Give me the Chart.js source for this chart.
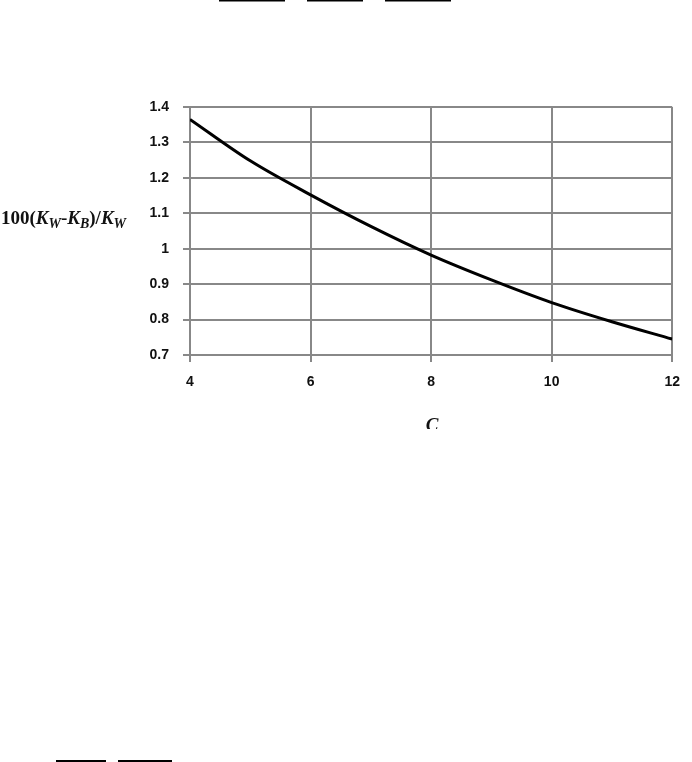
<!DOCTYPE html>
<html>
<head>
<meta charset="utf-8">
<script src="https://cdn.jsdelivr.net/npm/chart.js@4.4.1/dist/chart.umd.min.js"></script>
<style>
  html, body { margin: 0; padding: 0; background: #fff; }
  canvas { display: block; }
</style>
</head>
<body>
<canvas id="curve" width="692" height="762"></canvas>
<script>
// values
const cValues = [4, 5, 6, 7, 8, 9, 10, 11, 12]
const ratioValues = [1.365, 1.248, 1.152, 1.063, 0.982, 0.912, 0.848, 0.794, 0.745]
const xTickLabels = ['4', '6', '8', '10', '12']
const yTickLabels = ['0.7', '0.8', '0.9', '1', '1.1', '1.2', '1.3', '1.4']

const gridGrey = '#888888'
const tickFont = { family: 'Liberation Sans', size: 14, weight: 'bold' }

// axis titles drawn by hand (mixed italic / subscripts)
const titlesPlugin = {
  id: 'titles',
  afterDraw(chart) {
    const ctx = chart.ctx
    const area = chart.chartArea
    ctx.save()
    ctx.fillStyle = '#111'
    ctx.textBaseline = 'alphabetic'

    // y title: 100(K_W-K_B)/K_W
    const base = 'bold 19px "Liberation Serif"'
    const ital = 'italic bold 19px "Liberation Serif"'
    const sub = 'italic bold 14px "Liberation Serif"'
    const parts = [
      [base, '100(', 0], [ital, 'K', 0], [sub, 'W', 4],
      [base, '-', 0], [ital, 'K', 0], [sub, 'B', 4],
      [base, ')/', 0], [ital, 'K', 0], [sub, 'W', 4]
    ]
    let x = 1
    const y = 224
    parts.forEach(([f, t, dy]) => {
      ctx.font = f
      ctx.fillText(t, x, y + dy)
      x += ctx.measureText(t).width
    })

    // x title: C (bottom clipped as in the scan)
    ctx.save()
    ctx.beginPath()
    ctx.rect(0, 0, chart.width, 429)
    ctx.clip()
    ctx.font = 'italic bold 19px "Liberation Serif"'
    ctx.textAlign = 'center'
    ctx.fillText('C', (area.left + area.right) / 2 + 1, 431)
    ctx.restore()

    // fraction bars left over from the page
    ctx.fillStyle = '#000'
    ctx.fillRect(219, 0, 66, 1.5)
    ctx.fillRect(307, 0, 56, 1.5)
    ctx.fillRect(385, 0, 66, 1.5)
    ctx.fillRect(56, 760, 50, 2)
    ctx.fillRect(118, 760, 54, 2)
    ctx.restore()
  }
}

const curveConfig = {
  type: 'line',
  data: {
    datasets: [
      {
        data: cValues.map((c, i) => ({ x: c, y: ratioValues[i] })),
        borderColor: '#000',
        borderWidth: 3,
        pointRadius: 0,
        cubicInterpolationMode: 'monotone',
        fill: false,
      },
    ],
  },
  options: {
    responsive: false,
    animation: false,
    layout: { padding: { top: 107, right: 12, bottom: 327, left: 0 } },
    plugins: { legend: { display: false }, tooltip: { enabled: false } },
    scales: {
      x: {
        type: 'linear',
        min: 4,
        max: 12,
        ticks: {
          stepSize: 2,
          padding: 12,
          color: '#111',
          font: tickFont,
          callback: (v, i) => xTickLabels[i],
        },
        grid: { color: gridGrey, lineWidth: 2, tickLength: 7 },
        border: { color: gridGrey, width: 2 },
        afterFit: (scale) => { scale.height = 80 },
      },
      y: {
        min: 0.7,
        max: 1.4,
        ticks: {
          stepSize: 0.1,
          padding: 14,
          color: '#111',
          font: tickFont,
          callback: (v, i) => yTickLabels[i],
        },
        grid: { color: gridGrey, lineWidth: 2, tickLength: 7 },
        border: { color: gridGrey, width: 2 },
        afterFit: (scale) => { scale.width = 190 },
      },
    },
  },
  plugins: [titlesPlugin],
}

const curveCtx = document.getElementById('curve')
window.myCurve = new Chart(curveCtx, curveConfig)
</script>
</body>
</html>
